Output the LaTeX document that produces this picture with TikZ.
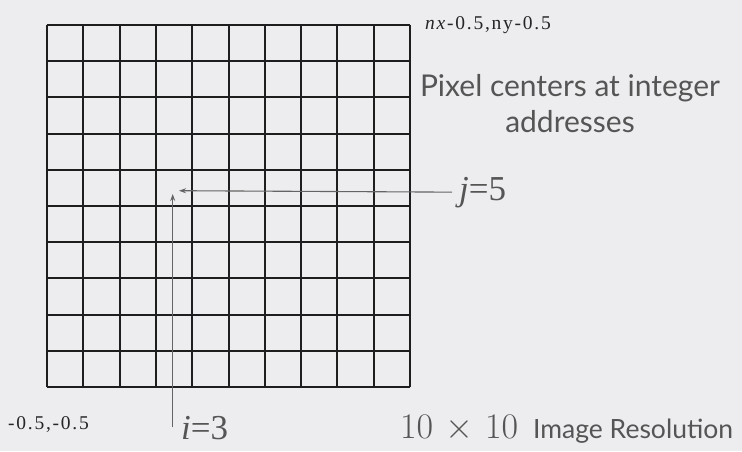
\RequirePackage{fix-cm}
\documentclass[tikz,border=0pt]{standalone}
\usepackage{fontspec}
\setmainfont{Liberation Serif}
\newfontfamily\gillfont{Lato}
\newfontfamily\spacedserif[LetterSpace=9]{Liberation Serif}
\usetikzlibrary{arrows.meta}
\definecolor{slidebg}{RGB}{237,237,240}
\definecolor{labelgray}{RGB}{85,85,85}
\definecolor{gridline}{RGB}{30,30,30}
\definecolor{pointer}{RGB}{100,100,100}
\begin{document}
\begin{tikzpicture}[x=1pt, y=-1pt,
    gridstroke/.style={draw=gridline, line width=1.6pt},
    pointerline/.style={draw=pointer, line width=1.1pt, -{Stealth[length=7pt, width=5pt]}},
    smalllab/.style={inner sep=0pt, text=black!85, font=\spacedserif\fontsize{19.5}{22}\selectfont},
    biglab/.style={inner sep=0pt, text=labelgray, font=\fontsize{35}{40}\selectfont}]
    % Background
    \fill[slidebg] (0,0) rectangle (742,451);
    \useasboundingbox (0,0) rectangle (742,451);

    % Pixel grid, 10 x 10
    \foreach \gx/\gy in {47/25, 83/61, 120/97, 156/134, 192/170, 229/206,
                         265/242, 301/278, 337/315, 374/351, 410/387} {
        \draw[gridstroke] (\gx,25) -- (\gx,387);
        \draw[gridstroke] (47,\gy) -- (410,\gy);
    }

    % Corner labels
    \node[smalllab, anchor=base west] (topcorner) at (425,29) {\textit{nx}-0.5,ny-0.5};
    \node[smalllab, anchor=base west] (botcorner) at (8,429) {-0.5,-0.5};

    % Caption
    \node[anchor=north, align=center, inner sep=0pt, text=labelgray,
          font=\gillfont\fontsize{30}{36}\selectfont] (caption) at (570,74)
        {Pixel centers at integer\\addresses};

    % Index labels and pointers
    \node[biglab, anchor=base west] (jlab) at (459,200) {\textit{j}=5};
    \node[biglab, anchor=base west] (ilab) at (181,439) {\textit{i}=3};
    \coordinate (jtip) at (179,190.7);
    \coordinate (itip) at (172.7,194);
    \coordinate (ibot) at (172.7,427);
    \draw[pointerline] ([xshift=-7pt]jlab.west) -- (jtip);
    \draw[pointerline] (ibot) -- (itip);

    % Resolution
    \node[biglab, anchor=base west, font=\fontsize{36}{40}\selectfont] (res) at (400,438) {$10\mkern2mu\times\mkern2mu10$};
    \node[anchor=base west, inner sep=0pt, text=labelgray,
          font=\gillfont\fontsize{26.5}{30}\selectfont] (reslab) at (533,438) {Image Resolution};
\end{tikzpicture}
\end{document}
